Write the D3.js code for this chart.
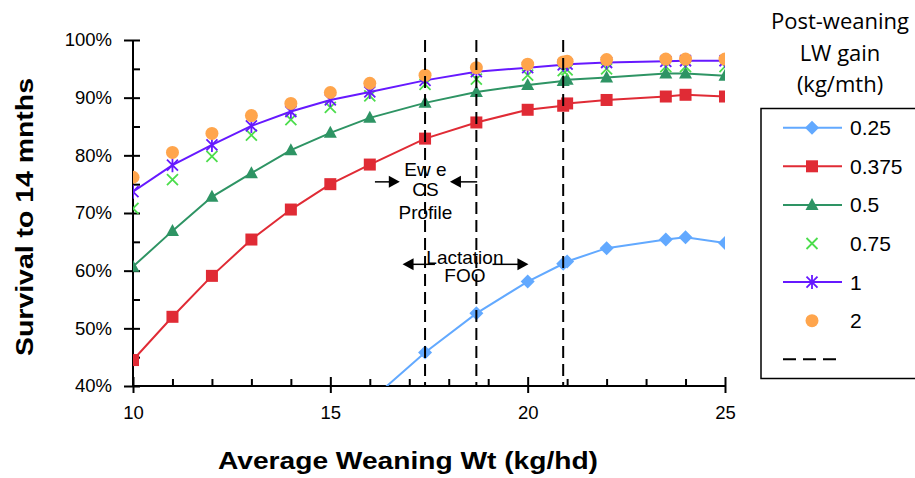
<!DOCTYPE html>
<html>
<head>
<meta charset="utf-8">
<script src="https://cdn.jsdelivr.net/npm/d3@7"></script>
<style>
	body { margin: 0; background: #fff; }
	svg { display: block; }
	text { font-family: "Liberation Sans", Arial, sans-serif; fill: #000; }
</style>
</head>
<body>
<div id="chart"></div>
<script>
// weaning weights (kg/hd) the model was run at
const weanWt = [10, 11, 12, 13, 14, 15, 16, 17.4, 18.7, 20, 20.9, 21, 22, 23.5, 24, 25];

// survival to 14 months (%) for each post-weaning gain (kg/mth)
const gain025 = [null, null, null, null, null, null, 37.4, 45.8, 52.6, 58.1, 61.2, 61.6, 63.9, 65.4, 65.8, 64.8];
const gain0375 = [44.5, 52.0, 59.1, 65.4, 70.6, 75.0, 78.4, 82.9, 85.7, 87.9, 88.6, 89.0, 89.6, 90.2, 90.5, 90.2];
const gain05 = [60.7, 66.9, 72.8, 76.9, 80.9, 83.9, 86.5, 89.1, 91.0, 92.2, 92.9, 93.1, 93.5, 94.2, 94.2, 93.8];
const gain075 = [70.8, 75.8, 79.8, 83.5, 86.2, 88.3, 90.3, 92.3, 93.2, 93.9, 94.7, 94.8, 95.0, 95.4, 95.4, 95.4];
const gain1 = [73.7, 78.3, 81.8, 85.1, 87.6, 89.6, 91.0, 93.0, 94.5, 95.2, 95.7, 95.8, 96.1, 96.3, 96.4, 96.4];
const gain2 = [76.2, 80.5, 83.8, 86.9, 89.0, 90.9, 92.5, 93.9, 95.2, 95.8, 96.2, 96.3, 96.6, 96.7, 96.7, 96.7];

const gainLabels = ["0.25", "0.375", "0.5", "0.75", "1", "2"];

// vertical reference weights
const markWt = [17.4, 18.7, 20.9];

const yTicks = [40, 50, 60, 70, 80, 90, 100];
const yMinor = [45, 55, 65, 75, 85, 95];
const xTicks = [10, 15, 20, 25];
const xMinor = [11, 12, 13, 14, 16, 17, 18, 19, 21, 22, 23, 24];

const W = 915, H = 478;
const plotL = 133, plotR = 725, plotT = 40, plotB = 386;

const svg = d3.select("#chart").append("svg")
	.attr("width", W)
	.attr("height", H);

const x = d3.scaleLinear().domain([10, 25]).range([plotL, plotR]);
const y = d3.scaleLinear().domain([40, 100]).range([plotB, plotT]);

svg.append("clipPath").attr("id", "plotclip")
	.append("rect")
	.attr("x", plotL).attr("y", plotT)
	.attr("width", plotR - plotL).attr("height", plotB - plotT);

// marker shapes
const shapes = {
	diamond: (g, c) => g.append("path").attr("d", "M0,-7L7,0L0,7L-7,0Z").attr("fill", c),
	square: (g, c) => g.append("rect").attr("x", -6).attr("y", -6).attr("width", 12).attr("height", 12).attr("fill", c),
	triangle: (g, c) => g.append("path").attr("d", "M0,-7L6.5,5L-6.5,5Z").attr("fill", c),
	cross: (g, c) => g.append("path").attr("d", "M-5.5,-5.5L5.5,5.5M-5.5,5.5L5.5,-5.5")
		.attr("stroke", c).attr("stroke-width", 1.8).attr("fill", "none"),
	star: (g, c) => g.append("path").attr("d", "M-5.5,-5.5L5.5,5.5M-5.5,5.5L5.5,-5.5M0,-7L0,7")
		.attr("stroke", c).attr("stroke-width", 1.8).attr("fill", "none"),
	circle: (g, c) => g.append("circle").attr("r", 6.5).attr("fill", c)
};

const series = [
	{ name: gainLabels[0], vals: gain025, color: "#62a9ff", line: true, shape: "diamond" },
	{ name: gainLabels[1], vals: gain0375, color: "#e02b35", line: true, shape: "square" },
	{ name: gainLabels[2], vals: gain05, color: "#2e9464", line: true, shape: "triangle" },
	{ name: gainLabels[3], vals: gain075, color: "#4cdd4c", line: false, shape: "cross" },
	{ name: gainLabels[4], vals: gain1, color: "#6619ff", line: true, shape: "star" },
	{ name: gainLabels[5], vals: gain2, color: "#ffa54c", line: false, shape: "circle" }
];

// axes
const yAxis = svg.append("g")
	.attr("transform", "translate(" + plotL + ",0)")
	.call(d3.axisLeft(y).tickValues(yTicks).tickSize(9).tickPadding(12).tickFormat(d => d + "%"));
yAxis.selectAll(".tick line").attr("x1", 7);
yAxis.append("g")
	.call(d3.axisLeft(y).tickValues(yMinor).tickSize(-7).tickFormat(""))
	.select(".domain").remove();

const xAxis = svg.append("g")
	.attr("transform", "translate(0," + plotB + ")")
	.call(d3.axisBottom(x).tickValues(xTicks).tickSize(7).tickPadding(13));
xAxis.selectAll(".tick line").attr("y1", -9);
xAxis.append("g")
	.call(d3.axisBottom(x).tickValues(xMinor).tickSize(-7).tickFormat(""))
	.select(".domain").remove();

svg.selectAll(".domain").attr("stroke", "#000").attr("stroke-width", 2);
svg.selectAll(".tick line").attr("stroke", "#000").attr("stroke-width", 2);
svg.selectAll(".tick text").style("font-size", "18.5px").attr("fill", "#000");
xAxis.selectAll(".domain").attr("d", "M" + plotL + ",0H" + plotR);
yAxis.selectAll(".domain").attr("d", "M0," + plotT + "V" + plotB);

// axis titles
svg.append("text")
	.attr("x", 408).attr("y", 469)
	.attr("text-anchor", "middle")
	.attr("textLength", 380).attr("lengthAdjust", "spacingAndGlyphs")
	.style("font-size", "24px").style("font-weight", "bold")
	.text("Average Weaning Wt (kg/hd)");

svg.append("text")
	.attr("transform", "translate(33,217) rotate(-90)")
	.attr("text-anchor", "middle")
	.attr("textLength", 278).attr("lengthAdjust", "spacingAndGlyphs")
	.style("font-size", "24px").style("font-weight", "bold")
	.text("Survival to 14 mnths");

// series
const plot = svg.append("g").attr("clip-path", "url(#plotclip)");

for (let s of series) {
	let pts = weanWt.map((w, i) => ({ w: w, v: s.vals[i] })).filter(p => p.v != null);
	if (s.line) {
		plot.append("path")
			.datum(pts)
			.attr("fill", "none")
			.attr("stroke", s.color)
			.attr("stroke-width", 2)
			.attr("d", d3.line().x(p => x(p.w)).y(p => y(p.v)));
	}
	plot.selectAll(null)
		.data(pts.filter(p => p.v >= 40))
		.enter().append("g")
		.attr("transform", p => "translate(" + x(p.w) + "," + y(p.v) + ")")
		.each(function () { shapes[s.shape](d3.select(this), s.color); });
}

// dashed reference lines
svg.selectAll(null)
	.data(markWt)
	.enter().append("line")
	.attr("x1", d => x(d)).attr("x2", d => x(d))
	.attr("y1", y(100)).attr("y2", y(40))
	.attr("stroke", "#000")
	.attr("stroke-width", 2)
	.attr("stroke-dasharray", "12,6");

// annotations
function arrow(x1, x2, yv) {
	let px1 = x(x1), px2 = x(x2), py = y(yv);
	let dir = px2 > px1 ? 1 : -1;
	svg.append("line")
		.attr("x1", px1).attr("x2", px2 - dir * 9)
		.attr("y1", py).attr("y2", py)
		.attr("stroke", "#000").attr("stroke-width", 1.5);
	svg.append("path")
		.attr("d", "M" + px2 + "," + py + "L" + (px2 - dir * 11) + "," + (py - 6) + "L" + (px2 - dir * 11) + "," + (py + 6) + "Z")
		.attr("fill", "#000");
}

const note = svg.append("g").style("font-size", "19px").attr("text-anchor", "middle");
note.append("text").attr("x", x(17.41)).attr("y", 176).text("Ew e");
note.append("text").attr("x", x(17.41)).attr("y", 196).text("CS");
note.append("text").attr("x", x(17.41)).attr("y", 219).text("Profile");
note.append("text").attr("x", x(18.41)).attr("y", 263.5).text("Lactation");
note.append("text").attr("x", x(18.41)).attr("y", 282).text("FOO");

arrow(16.13, 16.76, 75.4);
arrow(18.72, 18.03, 75.4);
arrow(17.65, 16.83, 61.1);
arrow(19.11, 20.02, 61.1);

// legend
const lg = svg.append("g");
lg.append("text")
	.attr("text-anchor", "middle")
	.style("font-family", "'Open Sans', sans-serif")
	.style("font-size", "22px")
	.selectAll("tspan")
	.data(["Post-weaning", "LW gain", "(kg/mth)"])
	.enter().append("tspan")
	.attr("x", 840)
	.attr("y", (d, i) => 29 + i * 31.7)
	.text(d => d);

lg.append("rect")
	.attr("x", 761).attr("y", 108.5)
	.attr("width", 170).attr("height", 270)
	.attr("fill", "none")
	.attr("stroke", "#000").attr("stroke-width", 1.5);

series.forEach((s, i) => {
	let ry = 127.7 + i * 38.6;
	let row = lg.append("g");
	if (s.line) {
		row.append("line")
			.attr("x1", 783).attr("x2", 842)
			.attr("y1", ry).attr("y2", ry)
			.attr("stroke", s.color).attr("stroke-width", 2);
	}
	let m = row.append("g").attr("transform", "translate(812," + ry + ")");
	shapes[s.shape](m, s.color);
	row.append("text")
		.attr("x", 850).attr("y", ry + 7.5)
		.style("font-size", "21px")
		.text(s.name);
});

lg.append("line")
	.attr("x1", 783).attr("x2", 842)
	.attr("y1", 127.7 + 6 * 38.6).attr("y2", 127.7 + 6 * 38.6)
	.attr("stroke", "#000").attr("stroke-width", 2)
	.attr("stroke-dasharray", "13,7");
</script>
</body>
</html>
